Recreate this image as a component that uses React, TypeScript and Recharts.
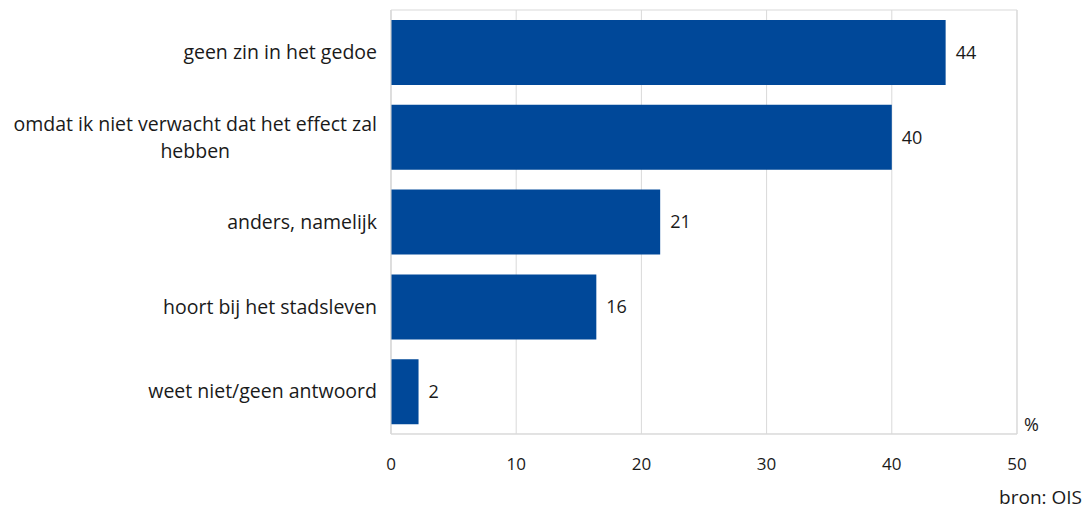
import React, { useLayoutEffect, useRef, useState } from 'react';
import { BarChart, Bar, XAxis, YAxis, CartesianGrid, LabelList, ReferenceArea } from 'recharts';

const categories = [
  'geen zin in het gedoe',
  'omdat ik niet verwacht dat het effect zal\nhebben',
  'anders, namelijk',
  'hoort bij het stadsleven',
  'weet niet/geen antwoord',
];
const values = [44.3, 40.0, 21.5, 16.4, 2.2];
const valueLabels = ['44', '40', '21', '16', '2'];
const xTicks = [0, 10, 20, 30, 40, 50];

const BLUE = '#004899';
const GRID = '#d9d9d9';
const INK = '#1a1a1a';
const FONT = "'Open Sans', sans-serif";

const data = categories.map((name, i) => ({ name, value: values[i], label: valueLabels[i] }));

// category label: right aligned, wrapped lines centred under the first line
function CategoryTick({ x, y, payload }: any) {
  const lines: string[] = String(payload.value).split('\n');
  const ref = useRef<SVGTextElement>(null);
  const [w, setW] = useState(0);
  useLayoutEffect(() => {
    if (ref.current && lines.length > 1) setW(ref.current.getComputedTextLength());
  }, [payload.value]);
  const lh = 27;
  const top = y - ((lines.length - 1) * lh) / 2;
  return (
    <g>
      {lines.map((l, i) => (
        <text
          key={i}
          ref={i === 0 ? ref : undefined}
          x={i === 0 ? x : x - w / 2}
          y={top + i * lh}
          dy="0.35em"
          textAnchor={i === 0 ? 'end' : 'middle'}
          fill={INK}
          fontSize={19.5}
          fontFamily={FONT}
        >
          {l}
        </text>
      ))}
    </g>
  );
}

export default function App() {
  return (
    <div style={{ position: 'absolute', left: 0, top: 0, width: 1086, height: 510, background: '#fff', fontFamily: FONT }}>
      <BarChart
        width={1086}
        height={510}
        data={data}
        layout="vertical"
        margin={{ top: 10, right: 69, left: 0, bottom: 0 }}
        barSize={65}
      >
        <CartesianGrid horizontal={false} stroke={GRID} />
        <ReferenceArea x1={0} x2={50} fill="none" stroke={GRID} fillOpacity={0} />
        <XAxis
          type="number"
          domain={[0, 50]}
          ticks={xTicks}
          height={76}
          axisLine={{ stroke: GRID }}
          tickLine={false}
          tickMargin={18}
          tick={{ fontSize: 17, fill: INK, fontFamily: FONT }}
        />
        <YAxis
          dataKey="name"
          type="category"
          width={391}
          axisLine={{ stroke: GRID }}
          tickLine={false}
          tickMargin={8}
          tick={<CategoryTick />}
          interval={0}
        />
        <Bar dataKey="value" fill={BLUE} isAnimationActive={false}>
          <LabelList dataKey="label" position="right" offset={10} fill={INK} fontSize={18} fontFamily={FONT} />
        </Bar>
      </BarChart>
      <div style={{ position: 'absolute', left: 1024, top: 412, fontSize: 18, color: INK }}>%</div>
      <div style={{ position: 'absolute', right: 4, top: 484, fontSize: 19, color: INK }}>bron: OIS</div>
    </div>
  );
}
